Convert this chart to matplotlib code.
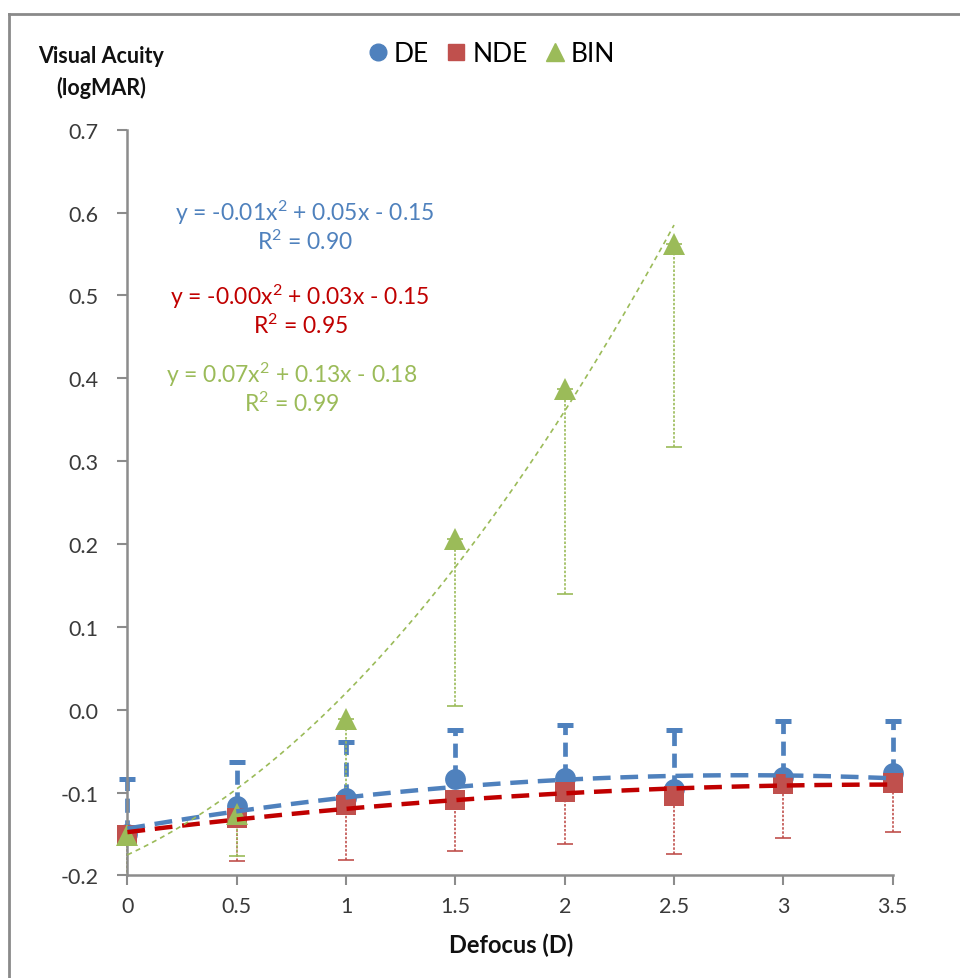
import numpy as np
import matplotlib
matplotlib.use('Agg')
import matplotlib.pyplot as plt
from matplotlib.lines import Line2D
from matplotlib.patches import Rectangle

plt.rcParams['font.family'] = ['Lato', 'DejaVu Sans']
plt.rcParams['mathtext.fontset'] = 'custom'
plt.rcParams['mathtext.rm'] = 'Lato'
plt.rcParams['mathtext.it'] = 'Lato:italic'
plt.rcParams['mathtext.bf'] = 'Lato:bold'

# defocus levels (D)
defocus = np.array([0, 0.5, 1, 1.5, 2, 2.5, 3, 3.5])
defocus_bin = np.array([0, 0.5, 1, 1.5, 2, 2.5])

# mean visual acuity (logMAR) and SD per group
de_mean = np.array([-0.150, -0.116, -0.107, -0.084, -0.082, -0.096, -0.081, -0.076])
de_sd = np.array([0.066, 0.053, 0.068, 0.060, 0.064, 0.072, 0.067, 0.062])
nde_mean = np.array([-0.151, -0.131, -0.115, -0.109, -0.099, -0.104, -0.090, -0.088])
nde_sd = np.array([0.060, 0.052, 0.067, 0.062, 0.063, 0.070, 0.065, 0.060])
bin_mean = np.array([-0.151, -0.126, -0.011, 0.206, 0.387, 0.562])
bin_sd = np.array([0.070, 0.050, 0.100, 0.202, 0.247, 0.245])

fit_labels = [
    (r'y = -0.01$\mathrm{x}^{2}$ + 0.05x - 0.15', r'$\mathrm{R}^{2}$ = 0.90'),
    (r'y = -0.00$\mathrm{x}^{2}$ + 0.03x - 0.15', r'$\mathrm{R}^{2}$ = 0.95'),
    (r'y = 0.07$\mathrm{x}^{2}$ + 0.13x - 0.18', r'$\mathrm{R}^{2}$ = 0.99'),
]

c_blue = '#4F81BD'
c_red = '#C0504D'
c_red_dark = '#C00000'
c_green = '#9BBB59'
axis_gray = '#8C8C8C'

fig = plt.figure(figsize=(9.6, 9.79), dpi=100)
ax = fig.add_axes([0.1327, 0.1048, 0.7972, 0.7617])

# clip error bars at the y range only, so caps at x=0 / x=3.5 stay whole
clip = Rectangle((-0.05, 0), 1.1, 1.1, transform=ax.transAxes, visible=False)
ax.add_patch(clip)


def clipped(eb):
    for art in list(eb[1]) + list(eb[2]):
        art.set_clip_path(clip)
    return eb


# error bars: DE upward, NDE and BIN downward
z = np.zeros_like(de_sd)
eb = clipped(ax.errorbar(defocus, de_mean, yerr=[z, de_sd], fmt='none', ecolor=c_blue,
                         elinewidth=3.4, capsize=5.5, capthick=3.6, zorder=2))
eb[2][0].set_linestyle((0, (3.0, 1.6)))
eb = clipped(ax.errorbar(defocus, nde_mean, yerr=[nde_sd, z], fmt='none', ecolor=c_red,
                         elinewidth=1.2, capsize=5.5, capthick=1.2, zorder=2))
eb[2][0].set_linestyle((0, (1.5, 1)))
eb = clipped(ax.errorbar(defocus_bin, bin_mean, yerr=[bin_sd, np.zeros_like(bin_sd)],
                         fmt='none', ecolor=c_green, elinewidth=1.2, capsize=5.5,
                         capthick=1.2, zorder=2))
eb[2][0].set_linestyle((0, (1.5, 1)))

# markers
ax.plot(defocus, de_mean, 'o', color=c_blue, markersize=15, markeredgewidth=0,
        zorder=3, clip_on=False, label='DE')
ax.plot(defocus, nde_mean, 's', color=c_red, markersize=14.5, markeredgewidth=0,
        zorder=3.1, clip_on=False, label='NDE')
ax.plot(defocus_bin, bin_mean, '^', color=c_green, markersize=16, markeredgewidth=0,
        zorder=3.2, clip_on=False, label='BIN')

# second-order polynomial trend lines
xs = np.linspace(0, 3.5, 200)
p = np.polyfit(defocus, de_mean, 2)
ax.plot(xs, np.polyval(p, xs), color=c_blue, linewidth=3.2, dashes=(4.0, 2.2), zorder=4)
p = np.polyfit(defocus, nde_mean, 2)
ax.plot(xs, np.polyval(p, xs), color=c_red_dark, linewidth=3.2, dashes=(4.0, 2.2), zorder=4)
xs_bin = np.linspace(0, 2.5, 200)
p = np.polyfit(defocus_bin, bin_mean, 2)
ax.plot(xs_bin, np.polyval(p, xs_bin), color=c_green, linewidth=1.2, dashes=(3, 2.5), zorder=4)

# fit equations
eq_pos = [(0.812, 0.601, 0.566), (0.790, 0.500, 0.465), (0.752, 0.405, 0.370)]
for (eq, r2), (xp, y1, y2), col in zip(fit_labels, eq_pos, [c_blue, c_red_dark, c_green]):
    ax.text(xp, y1, eq, color=col, fontsize=16.5, ha='center', va='center')
    ax.text(xp, y2, r2, color=col, fontsize=16.5, ha='center', va='center')

ax.set_xlim(0, 3.5)
ax.set_ylim(-0.2, 0.7)
ax.set_xticks(defocus)
ax.set_xticklabels(['0', '0.5', '1', '1.5', '2', '2.5', '3', '3.5'])
ax.set_yticks(np.arange(-0.2, 0.71, 0.1))
ax.set_yticklabels(['%.1f' % v for v in np.arange(-0.2, 0.71, 0.1)])
ax.tick_params(labelsize=15.5, colors='#3A3A3A', length=7, width=1.5, color=axis_gray)
ax.tick_params(axis='y', pad=14)
ax.tick_params(axis='x', pad=8)
for s in ['top', 'right']:
    ax.spines[s].set_visible(False)
for s in ['left', 'bottom']:
    ax.spines[s].set_color(axis_gray)
    ax.spines[s].set_linewidth(1.8)

fig.text(0.105, 0.926, 'Visual Acuity\n(logMAR)', fontsize=15.5, fontweight='bold',
         ha='center', va='center', linespacing=1.55, color='#111111')
fig.text(0.532, 0.034, 'Defocus (D)', fontsize=17, fontweight='bold', ha='center',
         va='center', color='#111111')

handles = [Line2D([], [], marker='o', ls='none', color=c_blue, markersize=12),
           Line2D([], [], marker='s', ls='none', color=c_red, markersize=12),
           Line2D([], [], marker='^', ls='none', color=c_green, markersize=13)]
fig.legend(handles, ['DE', 'NDE', 'BIN'], loc='center', bbox_to_anchor=(0.511, 0.944),
           ncol=3, frameon=False, fontsize=19, handletextpad=0.15, columnspacing=0.6,
           handlelength=0.9)

# outer frame (top and left edges)
fig.add_artist(Line2D([9 / 960, 1], [1 - 15 / 979, 1 - 15 / 979], color='#8A8A8A',
                      linewidth=2, transform=fig.transFigure))
fig.add_artist(Line2D([9 / 960, 9 / 960], [0, 1 - 15 / 979], color='#8A8A8A',
                      linewidth=2, transform=fig.transFigure))

fig.savefig('out.png', dpi=100)
